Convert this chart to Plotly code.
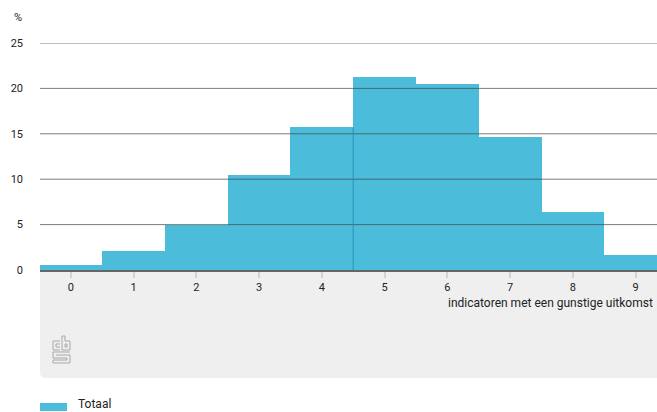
import plotly.graph_objects as go

categories = [0, 1, 2, 3, 4, 5, 6, 7, 8, 9]
totaal = [0.5, 2.1, 5.0, 10.5, 15.7, 21.3, 20.5, 14.6, 6.4, 1.7]
y_ticks = [0, 5, 10, 15, 20, 25]
series_name = "Totaal"
x_title = "indicatoren met een gunstige uitkomst"

W, H = 657, 412
L, R, T, B = 40, 0, 43, 142
PW, PH = W - L - R, H - T - B
FONT = "Roboto"
TXT = "#222222"
BAR = "#4cbcdb"


def px(x, y):
    """image pixel -> paper coords"""
    return (x - L) / PW, (H - B - y) / PH


def P(x, y):
    a, b = px(x, y)
    return f"{a:.5f},{b:.5f}"


fig = go.Figure()
fig.add_trace(go.Bar(x=categories, y=totaal, name=series_name,
                     marker=dict(color=BAR, line=dict(width=0)),
                     width=1.0, showlegend=False))

shapes = []
# grey box under axis with rounded bottom corners
x0, y0 = 40, 272
x1, y1 = 660, 378
r = 6
path = (f"M {P(x0, y0)} L {P(x1, y0)} L {P(x1, y1)} L {P(x0 + r, y1)} "
        f"Q {P(x0, y1)} {P(x0, y1 - r)} Z")
shapes.append(dict(type="path", xref="paper", yref="paper", path=path,
                   fillcolor="#efefef", line=dict(width=0), layer="below"))

# gridlines above bars
for v in y_ticks[1:]:
    shapes.append(dict(type="line", xref="paper", yref="y", x0=0, x1=1, y0=v, y1=v,
                       line=dict(color="rgba(70,70,70,0.7)", width=1), layer="above"))

# vertical line at 4.5
shapes.append(dict(type="line", xref="x", yref="y", x0=4.5, x1=4.5, y0=0, y1=totaal[4],
                   line=dict(color="rgba(20,140,185,0.8)", width=1), layer="above"))

# CBS logo (approximate)
logo = [
    # c
    [(60, 341), (53, 341), (53, 350), (60, 350)],
    [(60, 344), (56, 344), (56, 347), (60, 347)],
    # b
    [(62, 336), (62, 350), (70, 350), (70, 341), (65, 341), (65, 336), (62, 336)],
    [(65, 344), (65, 347), (67, 347), (67, 344), (65, 344)],
    # s
    [(70, 352), (53, 352), (53, 358), (67, 358), (67, 360), (53, 360), (53, 363), (70, 363),
     (70, 355), (56, 355), (56, 355)],
]
for pts in logo:
    d = "M " + " L ".join(P(x, y) for x, y in pts)
    shapes.append(dict(type="path", xref="paper", yref="paper", path=d,
                       line=dict(color="#a8a8a8", width=1)))

# legend swatch
a0, b0 = px(40, 403)
a1, b1 = px(67, 411)
shapes.append(dict(type="rect", xref="paper", yref="paper", x0=a0, x1=a1, y0=b1, y1=b0,
                   fillcolor=BAR, line=dict(width=0)))

annotations = []
ax, ay = px(12, 17)
annotations.append(dict(text="%", xref="paper", yref="paper", x=ax, y=ay, xanchor="left",
                        yanchor="middle", showarrow=False, font=dict(family=FONT, size=11, color=TXT)))
ax, ay = px(655, 303)
annotations.append(dict(text=x_title, xref="paper", yref="paper", x=ax, y=ay, xanchor="right",
                        yanchor="middle", showarrow=False, font=dict(family=FONT, size=12, color=TXT)))
ax, ay = px(76, 404)
annotations.append(dict(text=series_name, xref="paper", yref="paper", x=ax, y=ay, xanchor="left",
                        yanchor="middle", showarrow=False, font=dict(family=FONT, size=12, color=TXT)))

fig.update_layout(
    width=W, height=H,
    margin=dict(l=L, r=R, t=T, b=B),
    paper_bgcolor="white", plot_bgcolor="white",
    bargap=0,
    shapes=shapes, annotations=annotations,
    showlegend=False,
    font=dict(family=FONT, size=11, color=TXT),
    xaxis=dict(range=[-0.49, 9.34], tickmode="array", tickvals=categories,
               ticktext=[str(c) for c in categories],
               showgrid=False, zeroline=False, showline=True, linecolor="#666666", linewidth=2,
               ticks="outside", ticklen=6, tickwidth=1.5, tickcolor="#d2d2d2",
               tickfont=dict(family=FONT, size=11, color=TXT), fixedrange=True),
    yaxis=dict(range=[0, 25], tickmode="array", tickvals=y_ticks,
               showgrid=False, zeroline=False, showline=False, ticks="",
               ticklabelstandoff=16,
               tickfont=dict(family=FONT, size=11, color=TXT), fixedrange=True),
)

fig.write_html("out.html", config={"displayModeBar": False},
               post_script="document.body.style.margin='0';document.body.style.overflow='hidden';")
